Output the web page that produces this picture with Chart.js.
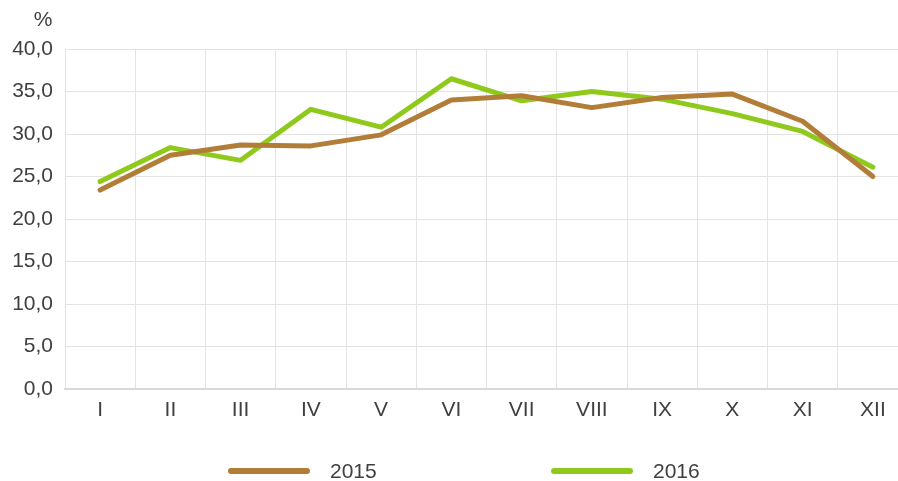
<!DOCTYPE html>
<html>
<head>
<meta charset="utf-8">
<script src="https://cdn.jsdelivr.net/npm/chart.js@4"></script>
<style>
  html, body { margin: 0; padding: 0; background: #fff; overflow: hidden; }
  #wrap { position: relative; width: 910px; height: 481px; }
</style>
</head>
<body>
<div id="wrap"><canvas id="chart" width="910" height="481"></canvas></div>
<script>
// Data
const months = ['I', 'II', 'III', 'IV', 'V', 'VI', 'VII', 'VIII', 'IX', 'X', 'XI', 'XII'];
const values2015 = [23.4, 27.5, 28.7, 28.6, 29.9, 34.0, 34.5, 33.1, 34.3, 34.7, 31.5, 25.0];
const values2016 = [24.4, 28.4, 26.9, 32.9, 30.8, 36.5, 33.9, 35.0, 34.1, 32.4, 30.3, 26.1];
const yTicks = [0, 5, 10, 15, 20, 25, 30, 35, 40];

const textColor = '#404040';
const gridColor = '#e3e3e3';
const fontFamily = '"Liberation Sans", Arial, sans-serif';

// Draws the "%" unit label and the legend below the axis
const extrasPlugin = {
    id: 'extras',
    afterDraw(chart) {
        const ctx = chart.ctx;
        const area = chart.chartArea;
        ctx.save();
        ctx.fillStyle = textColor;
        ctx.font = '21px ' + fontFamily;
        ctx.textBaseline = 'middle';
        ctx.textAlign = 'center';
        ctx.fillText('%', area.left - 22, area.top - 29);

        const mid = 449;
        const legendY = 471;
        const offsets = [-218, 105];
        chart.data.datasets.forEach((ds, i) => {
            const x = mid + offsets[i];
            ctx.strokeStyle = ds.borderColor;
            ctx.lineWidth = 6;
            ctx.lineCap = 'round';
            ctx.beginPath();
            ctx.moveTo(x, legendY);
            ctx.lineTo(x + 76, legendY);
            ctx.stroke();
            ctx.textAlign = 'left';
            ctx.fillStyle = textColor;
            ctx.fillText(ds.label, x + 99, legendY + 1);
        });
        ctx.restore();
    }
};

const ctx = document.getElementById('chart').getContext('2d');
new Chart(ctx, {
    type: 'line',
    data: {
        labels: months,
        datasets: [
            {
                label: '2015',
                data: values2015,
                borderColor: '#b27d38',
                borderWidth: 5,
                borderCapStyle: 'round',
                borderJoinStyle: 'round',
                pointRadius: 0,
                tension: 0,
                fill: false
            },
            {
                label: '2016',
                data: values2016,
                borderColor: '#8fc91c',
                borderWidth: 5,
                borderCapStyle: 'round',
                borderJoinStyle: 'round',
                pointRadius: 0,
                tension: 0,
                fill: false
            }
        ]
    },
    options: {
        responsive: false,
        animation: false,
        layout: { padding: { top: 49, right: 2, bottom: 52, left: 0 } },
        plugins: {
            legend: { display: false },
            tooltip: { enabled: false }
        },
        scales: {
            x: {
                offset: true,
                grid: { color: gridColor, lineWidth: 1, offset: true, drawTicks: false },
                border: { color: '#d9d9d9', width: 2 },
                ticks: {
                    color: textColor,
                    font: { family: fontFamily, size: 21 },
                    padding: 9,
                    maxRotation: 0,
                    autoSkip: false
                },
                afterFit(scale) { scale.height = 40; }
            },
            y: {
                min: 0,
                max: 40,
                afterBuildTicks(scale) { scale.ticks = yTicks.map(v => ({ value: v })); },
                grid: { color: gridColor, lineWidth: 1, drawTicks: false },
                border: { display: false },
                ticks: {
                    color: textColor,
                    font: { family: fontFamily, size: 21 },
                    padding: 12,
                    callback: v => v.toFixed(1).replace('.', ',')
                },
                afterFit(scale) { scale.width = 65; }
            }
        }
    },
    plugins: [extrasPlugin]
});
</script>
</body>
</html>
